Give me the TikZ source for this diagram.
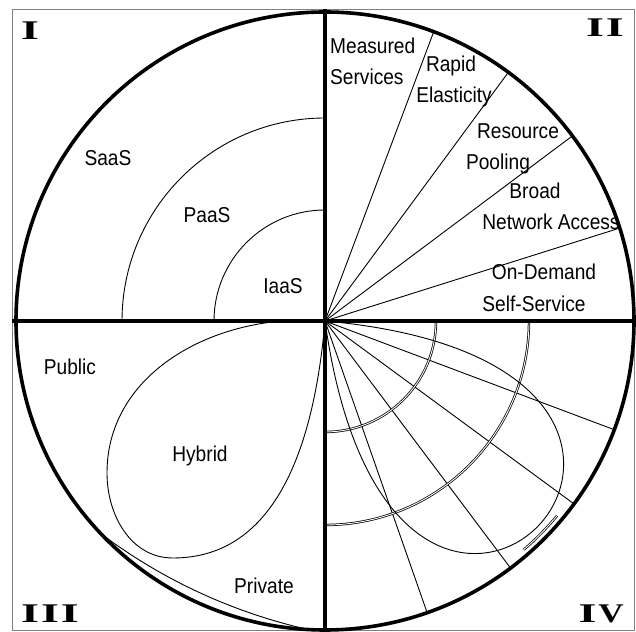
\documentclass[tikz,border=0pt]{standalone}
\usepackage{fontspec}
\usepackage{graphicx}
\setmainfont{Liberation Sans}
\newfontfamily\numfont{Liberation Serif}
\newcommand{\romI}{\scalebox{1.7}[1]{I}}
\newcommand{\romV}{\scalebox{1.3}[1]{V}}
\begin{document}
\begin{tikzpicture}[x=1pt,y=1pt,
  thinline/.style={line width=0.9pt},
  thick axis/.style={line width=3.6pt},
  dbl/.style={double, double distance=0.9pt, line width=0.75pt},
  lbl/.style={font=\fontsize{21.5}{24}\selectfont, inner sep=0pt, xscale=0.89, anchor=base},
  num/.style={font=\numfont\bfseries\fontsize{27}{29}\selectfont, inner sep=0pt}]
\useasboundingbox (0,0) rectangle (636,631);
\clip (0,0) rectangle (636,631);
\fill[white] (0,0) rectangle (636,631);
\coordinate (C) at (325,310);
% frame
\draw[gray, line width=0.8pt] (12,1) rectangle (634,622);
% quadrant I arcs
\draw[thinline] (C) ++(-203,0) arc[start angle=180, end angle=90, radius=203];
\draw[thinline] (C) ++(-111,0) arc[start angle=180, end angle=90, radius=111];
% quadrant II rays
\foreach \a in {17.5,36.8,53.6,69.4} \draw[thinline] (C) -- ++(\a:308);
% quadrant IV rays
\foreach \a in {-20.6,-36.3,-53.1,-70.7} \draw[thinline] (C) -- ++(\a:308);
% quadrant IV arcs
\draw[dbl] (C) ++(111,0) arc[start angle=0, end angle=-90, radius=111];
\draw[dbl] (C) ++(204,0) arc[start angle=0, end angle=-90, radius=204];
\draw[dbl] (C) ++(-49:303) arc[start angle=-49, end angle=-40, radius=303];
% quadrant IV loop
\draw[thinline] (C) .. controls (825,265) and (395,-190) .. (C);
% hybrid loop
\draw[thinline] (C) to[out=175,in=90] (107,158) to[out=-90,in=180] (173,73) to[out=0,in=-95] (C);
% thin arc near circle (III)
\draw[thinline] (427.7,532.2) ++(232.7:544) arc[start angle=232.7, end angle=258, radius=544];
% main circle and axes
\draw[thick axis] (C) circle[radius=309];
\draw[thick axis] (325,622) -- (325,0);
\draw[thick axis] (12,310) -- (634,310);
% labels quadrant I
\node[lbl] (saas) at (108,465) {SaaS};
\node[lbl] (paas) at (207,408) {PaaS};
\node[lbl] (iaas) at (283,337) {IaaS};
% labels quadrant II
\node[lbl, anchor=base west] (meas1) at (330,577) {Measured};
\node[lbl, anchor=base west] (meas2) at (330,546) {Services};
\node[lbl] (rap1) at (451,559) {Rapid};
\node[lbl] (rap2) at (454,528) {Elasticity};
\node[lbl] (res1) at (518,492) {Resource};
\node[lbl] (res2) at (498,461) {Pooling};
\node[lbl] (bro1) at (535,432) {Broad};
\node[lbl] (bro2) at (551,401) {Network Access};
\node[lbl] (ond1) at (544,351) {On-Demand};
\node[lbl] (ond2) at (534,319) {Self-Service};
% labels quadrant III
\node[lbl] (pub) at (70,256) {Public};
\node[lbl] (hyb) at (200,169) {Hybrid};
\node[lbl] (priv) at (264,38) {Private};
% quadrant numerals
\node[num, anchor=base west] (q1) at (21,591) {\romI};
\node[num, anchor=base east] (q2) at (624,594) {\romI\hspace{2pt}\romI};
\node[num, anchor=base west] (q3) at (21,9) {\romI\hspace{2pt}\romI\hspace{2pt}\romI};
\node[num, anchor=base east] (q4) at (624,9) {\romI\hspace{2pt}\romV};
\end{tikzpicture}
\end{document}
